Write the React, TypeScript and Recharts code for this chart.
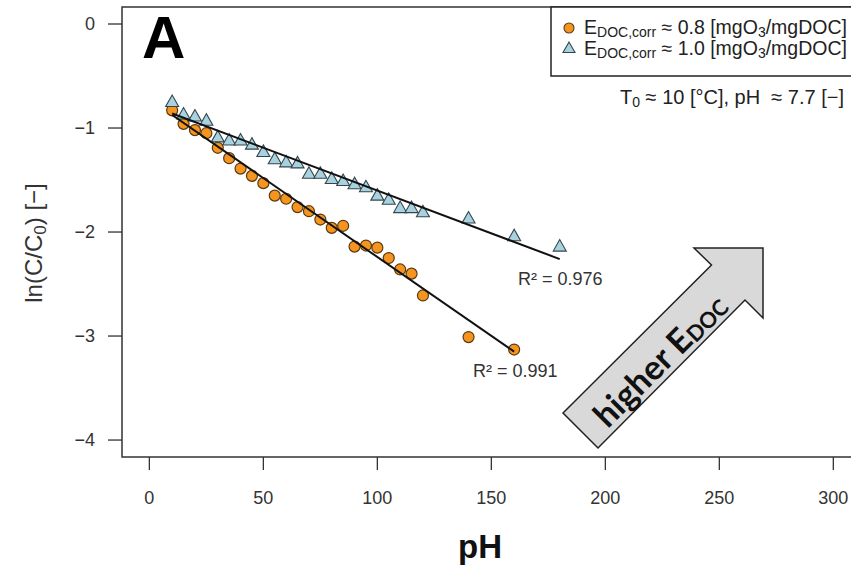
import { Scatter, ScatterChart, XAxis, YAxis } from "recharts"

// reaction time axis values (labelled pH in the figure) and ln(C/C0)
const xLow = [10, 15, 20, 25, 30, 35, 40, 45, 50, 55, 60, 65, 70, 75, 80, 85, 90, 95, 100, 105, 110, 115, 120, 140, 160]
const yLow = [-0.83, -0.96, -1.02, -1.05, -1.19, -1.29, -1.39, -1.46, -1.53, -1.65, -1.68, -1.76, -1.8, -1.88, -1.96, -1.94, -2.14, -2.13, -2.15, -2.25, -2.36, -2.4, -2.61, -3.01, -3.13]

const xHigh = [10, 15, 20, 25, 30, 35, 40, 45, 50, 55, 60, 65, 70, 75, 80, 85, 90, 95, 100, 105, 110, 115, 120, 140, 160, 180]
const yHigh = [-0.75, -0.87, -0.89, -0.93, -1.09, -1.12, -1.12, -1.16, -1.23, -1.3, -1.33, -1.34, -1.44, -1.44, -1.49, -1.51, -1.54, -1.57, -1.65, -1.69, -1.77, -1.77, -1.81, -1.87, -2.04, -2.14]

const fitLowX = [10, 160]
const fitLowY = [-0.875, -3.15]
const fitHighX = [10, 180]
const fitHighY = [-0.86, -2.26]

const xTicks = [0, 50, 100, 150, 200, 250, 300]
const yTicks = [0, -1, -2, -3, -4]

const toPoints = (xs: number[], ys: number[]) => xs.map((x, i) => ({ x, y: ys[i] }))

const font = "'Liberation Sans', Arial, sans-serif"
const orange = "#F5951F"
const blue = "#A8D2DF"

const Circle = (p: any) => (
  <circle cx={p.cx} cy={p.cy} r={5.5} fill={orange} stroke="#5a390f" strokeWidth={1.2} />
)

const Triangle = (p: any) => (
  <polygon
    points={`${p.cx},${p.cy - 7} ${p.cx - 6.5},${p.cy + 4.5} ${p.cx + 6.5},${p.cy + 4.5}`}
    fill={blue}
    stroke="#34454b"
    strokeWidth={1.1}
  />
)

const minus = (v: number) => String(v).replace("-", "\u2212")

function LegendRow({ y, value }: { y: number; value: string }) {
  return (
    <text x={584} y={y} fontSize={19.5} fill="#222" fontFamily={font}>
      E<tspan fontSize={14} dy={3}>DOC,corr</tspan>
      <tspan dy={-3}>{` ≈ ${value} [mgO`}</tspan>
      <tspan fontSize={14} dy={3}>3</tspan>
      <tspan dy={-3}>/mgDOC]</tspan>
    </text>
  )
}

export default function App() {
  return (
    <div style={{ position: "absolute", left: 0, top: 0, width: 851, height: 575, overflow: "hidden", background: "#fff", fontFamily: font }}>
      <ScatterChart width={870} height={575} margin={{ top: 7, right: 10, bottom: 0, left: 0 }}>
        <XAxis
          type="number"
          dataKey="x"
          domain={[-12, 311.7]}
          ticks={xTicks}
          allowDataOverflow
          axisLine={false}
          tickSize={13}
          tickMargin={21}
          height={118}
          tickLine={{ stroke: "#333", strokeWidth: 1.3 }}
          tick={{ fontSize: 18, fill: "#333", fontFamily: font }}
        />
        <YAxis
          type="number"
          dataKey="y"
          domain={[-4.163, 0.1635]}
          ticks={yTicks}
          allowDataOverflow
          axisLine={false}
          tickSize={14}
          tickMargin={13}
          width={122}
          tickFormatter={minus}
          tickLine={{ stroke: "#333", strokeWidth: 1.3 }}
          tick={{ fontSize: 18, fill: "#333", fontFamily: font }}
        />
        <Scatter data={toPoints(xLow, yLow)} shape={Circle} isAnimationActive={false} />
        <Scatter data={toPoints(xHigh, yHigh)} shape={Triangle} isAnimationActive={false} />
        <Scatter data={toPoints(fitLowX, fitLowY)} line={{ stroke: "#111", strokeWidth: 2 }} shape={() => <g />} isAnimationActive={false} />
        <Scatter data={toPoints(fitHighX, fitHighY)} line={{ stroke: "#111", strokeWidth: 2 }} shape={() => <g />} isAnimationActive={false} />
      </ScatterChart>

      <svg width={851} height={575} style={{ position: "absolute", left: 0, top: 0, pointerEvents: "none" }}>
        {/* plot frame */}
        <rect x={122} y={7} width={760} height={450} fill="none" stroke="#333" strokeWidth={1.5} />

        <text x={142} y={58} fontSize={60} fontWeight="bold" fill="#000" fontFamily={font}>A</text>

        {/* legend */}
        <rect x={551} y={7} width={320} height={69} fill="#fff" stroke="#222" strokeWidth={1.5} />
        <circle cx={569} cy={28} r={5} fill={orange} stroke="#5a390f" strokeWidth={1.1} />
        <polygon points="569,42 563,52.5 575,52.5" fill={blue} stroke="#34454b" strokeWidth={1.1} />
        <LegendRow y={34} value="0.8" />
        <LegendRow y={55} value="1.0" />
        <text x={844} y={104} fontSize={20} fill="#222" textAnchor="end" fontFamily={font}>
          T<tspan fontSize={14} dy={3}>0</tspan>
          <tspan dy={-3}>{" ≈ 10 [°C], pH \u00a0≈ 7.7 [−]"}</tspan>
        </text>

        <text x={518} y={285} fontSize={18} fill="#333" fontFamily={font}>R² = 0.976</text>
        <text x={473} y={377} fontSize={18} fill="#333" fontFamily={font}>R² = 0.991</text>

        {/* arrow annotation */}
        <polygon
          points="563,413 711.5,265 694,248 763,248 763,318 745,300 598,448"
          fill="#d9d9d9"
          stroke="#222"
          strokeWidth={1.5}
        />
        <text
          transform="translate(659,359) rotate(-45)"
          textAnchor="middle"
          dominantBaseline="central"
          fontSize={34}
          fontWeight="bold"
          fill="#111"
          fontFamily="Lato, 'Open Sans', sans-serif"
        >
          higher E<tspan fontSize={22} dy={6}>DOC</tspan>
        </text>

        {/* axis titles */}
        <text transform="translate(42,243) rotate(-90)" textAnchor="middle" fontSize={24} fill="#333" fontFamily={font}>
          ln(C/C<tspan fontSize={17} dy={4}>0</tspan>
          <tspan dy={-4}>) [−]</tspan>
        </text>
        <text x={480} y={558} textAnchor="middle" fontSize={33} fontWeight="bold" fill="#111" fontFamily={font}>pH</text>
      </svg>
    </div>
  )
}
